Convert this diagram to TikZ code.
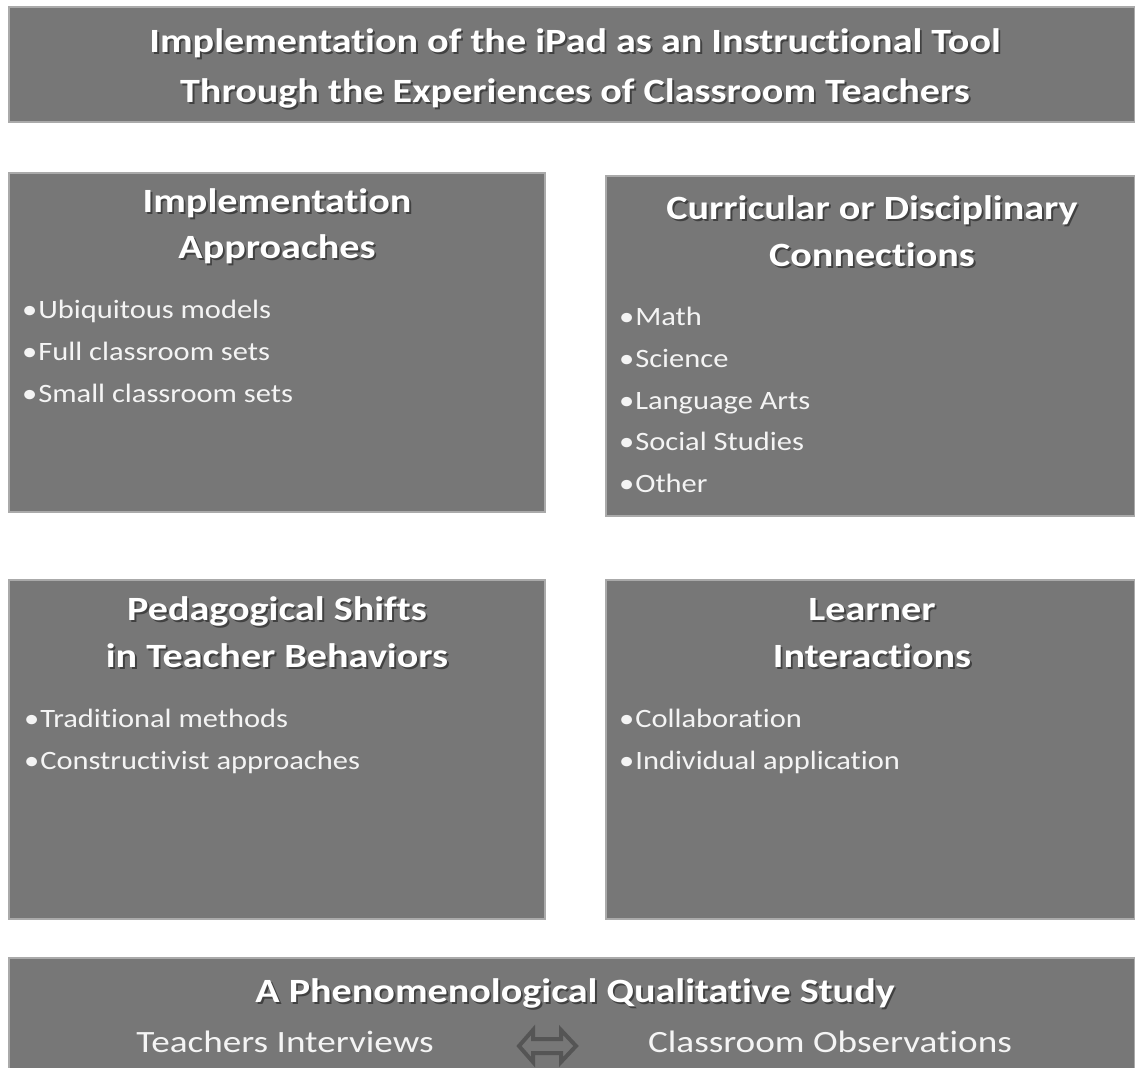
\documentclass[tikz,border=0pt]{standalone}
\usepackage{fontspec}
\setmainfont{Carlito}[Ligatures=NoCommon]
\definecolor{panel}{HTML}{777777}
\definecolor{panelrim}{HTML}{AAAAAA}
\definecolor{txt}{HTML}{F4F4F4}
\definecolor{arrowgray}{HTML}{555555}
\tikzset{
  panelbox/.style={rectangle, fill=panel, draw=panelrim, line width=1.2pt, inner sep=0pt},
  headtxt/.style={text=white, font=\bfseries\fontsize{34}{46}\selectfont, align=center,
    anchor=mid, inner sep=0pt, xscale=1.18, transform shape},
  headshadow/.style={headtxt, text=black, opacity=0.45, xshift=1.6pt, yshift=-1.8pt},
  itemtxt/.style={text=txt, font=\fontsize{26.5}{32}\selectfont, anchor=mid west,
    inner sep=0pt, xscale=1.15, transform shape},
  bottxt/.style={text=txt, font=\fontsize{31}{36}\selectfont, anchor=mid,
    inner sep=0pt, xscale=1.2, transform shape},
}
% heading with a soft drop shadow: name, position, text
\newcommand\headline[3]{%
  \node[headshadow] at (#2) {#3};
  \node[headtxt] (#1) at (#2) {#3};}
% bulleted entry: name, position of the bullet, text
\newcommand\entry[3]{%
  \node[itemtxt] (#1) at (#2) {\makebox[14pt][l]{\textbullet}#3};}
\begin{document}
\begin{tikzpicture}[x=1pt,y=-1pt]
\useasboundingbox[fill=white] (0,0) rectangle (1135,1068);

% panels
\node[panelbox, minimum width=1126pt, minimum height=115pt] (title) at (572,64.5) {};
\node[panelbox, minimum width=536pt, minimum height=339pt] (impl) at (277,342.5) {};
\node[panelbox, minimum width=529pt, minimum height=340pt] (curr) at (870.5,346) {};
\node[panelbox, minimum width=536pt, minimum height=339pt] (peda) at (277,749.5) {};
\node[panelbox, minimum width=529pt, minimum height=339pt] (lear) at (870.5,749.5) {};
\node[panelbox, minimum width=1126pt, minimum height=116pt] (study) at (572,1016) {};

% title
\headline{t1}{575,50}{Implementation of the iPad as an Instructional Tool}
\headline{t2}{575,100}{Through the Experiences of Classroom Teachers}

% implementation approaches
\headline{h1a}{277,210}{Implementation}
\headline{h1b}{277,256}{Approaches}
\entry{i1}{22,316}{Ubiquitous models}
\entry{i2}{22,358}{Full classroom sets}
\entry{i3}{22,400}{Small classroom sets}

% curricular connections
\headline{h2a}{872,217}{Curricular or Disciplinary}
\headline{h2b}{872,264}{Connections}
\entry{c1}{619,323}{Math}
\entry{c2}{619,365}{Science}
\entry{c3}{619,407}{Language Arts}
\entry{c4}{619,448}{Social Studies}
\entry{c5}{619,490}{Other}

% pedagogical shifts
\headline{h3a}{277,618}{Pedagogical Shifts}
\headline{h3b}{277,665}{in Teacher Behaviors}
\entry{p1}{24,725}{Traditional methods}
\entry{p2}{24,767}{Constructivist approaches}

% learner interactions
\headline{h4a}{872,618}{Learner}
\headline{h4b}{872,665}{Interactions}
\entry{l1}{619,725}{Collaboration}
\entry{l2}{619,767}{Individual application}

% study design
\headline{s0}{575,1000}{A Phenomenological Qualitative Study}
\node[bottxt] (interv) at (285,1050) {Teachers Interviews};
\node[bottxt] (observ) at (830,1050) {Classroom Observations};

% hollow double arrow between the two methods
\draw[draw=arrowgray, fill=panel, line width=4pt, line join=miter]
  (519,1046) -- (533,1030) -- (533,1039) -- (561,1039) -- (561,1030)
  -- (576,1046) -- (561,1062) -- (561,1053) -- (533,1053) -- (533,1062) -- cycle;
\end{tikzpicture}
\end{document}
